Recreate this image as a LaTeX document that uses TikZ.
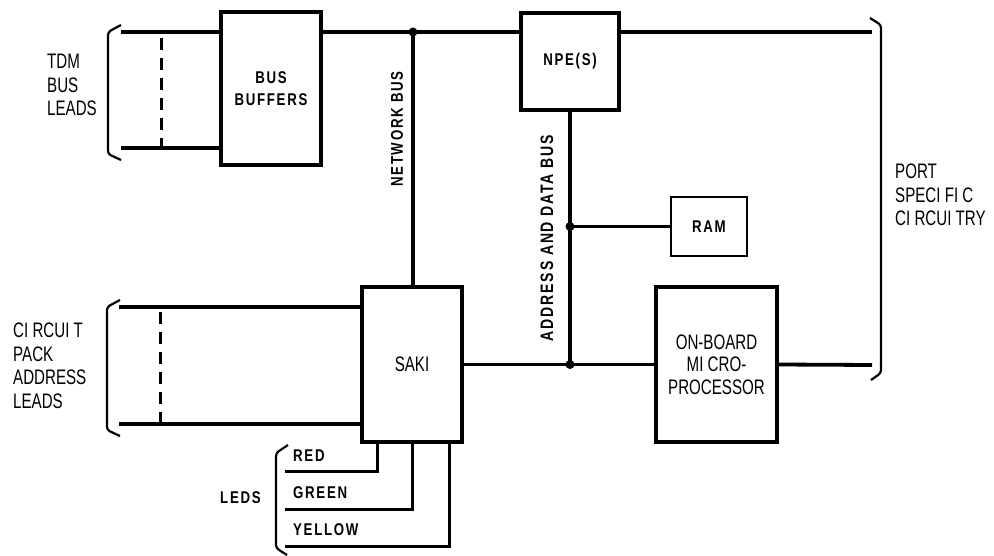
\documentclass[tikz,border=0pt]{standalone}
\usepackage{fontspec}
\newfontfamily\thinsans[FakeStretch=0.72]{Liberation Sans}
\newfontfamily\boldsans[FakeStretch=0.78,LetterSpace=10]{Liberation Sans Bold}
\usetikzlibrary{calc}

\begin{document}
\begin{tikzpicture}[x=1pt, y=-1pt,
    every node/.style={inner sep=0pt, align=center},
    blk/.style ={draw, line width=3.2pt, font=\boldsans\fontsize{17}{22}\selectfont},
    plain/.style={draw, line width=3.2pt, font=\thinsans\fontsize{21}{22.5}\selectfont},
    bus/.style ={line width=3.8pt},
    lead/.style={line width=3pt},
    brkt/.style={line width=2.2pt, rounded corners=3pt},
    tick/.style={line width=3pt, dash pattern=on 12pt off 8pt},
    tag/.style ={font=\boldsans\fontsize{17}{20}\selectfont},
    note/.style={font=\thinsans\fontsize{21}{23.5}\selectfont, align=left},
    dot/.style ={circle, fill, minimum size=9pt},
]
\useasboundingbox (0,0) rectangle (994,556);

% boxes
\node[blk, minimum width=100pt, minimum height=153pt] (buf) at (271,88.5) {BUS\\BUFFERS};
\node[blk, minimum width=98pt, minimum height=97pt] (npe) at (570,61.5) {NPE(S)};
\node[blk, line width=2.4pt, minimum width=76pt, minimum height=59pt] (ram) at (709,226.5) {RAM};
\node[plain, minimum width=100pt, minimum height=155pt] (saki) at (412,364.5) {SAKI};
\node[plain, minimum width=121pt, minimum height=155pt] (mpu) at (716.5,364.5) {ON-BOARD\\MI CRO-\\PROCESSOR};

% bracket ends
\coordinate (tdmT) at (121,32);
\coordinate (tdmB) at (121,148);
\coordinate (cpT) at (119,307);
\coordinate (cpB) at (119,424);
\coordinate (pscT) at (872,32);
\coordinate (pscB) at (872,365);
\coordinate (netj) at (413,32);

% TDM bus leads and network bus
\draw[bus] (tdmT) -- (tdmT -| buf.west);
\draw[bus] (tdmB) -- (tdmB -| buf.west);
\draw[tick] (161,38) -- (161,148);
\draw[bus] (buf.east |- tdmT) -- (npe.west |- tdmT);
\draw[bus] (npe.east |- tdmT) -- (pscT);
\draw[bus] (netj) -- (netj |- saki.north);
\node[dot] (netd) at (netj) {};

% address and data bus
\coordinate (ramj) at (ram.west -| npe.south);
\coordinate (mpuj) at (saki.east -| npe.south);
\draw[bus] (npe.south) -- (mpuj);
\draw[lead] (ramj) -- (ram.west);
\draw[bus] (saki.east) -- (mpu.west);
\draw[bus] (mpu.east) -- (pscB);
\node[dot] (ramd) at (ramj) {};
\node[dot] (mpud) at (mpuj) {};

% circuit pack address leads
\draw[bus] (cpT) -- (cpT -| saki.west);
\draw[bus] (cpB) -- (cpB -| saki.west);
\draw[tick] (160,312) -- (160,424);

% LED leads
\coordinate (redE) at (285,471);
\coordinate (grnE) at (285,509);
\coordinate (yelE) at (285,546);
\draw[lead] (redE) -| ([xshift=-35pt]saki.south);
\draw[lead] (grnE) -| (saki.south);
\draw[lead] (yelE) -| ([xshift=37pt]saki.south);

% brackets
\draw[brkt] (121,25) -- (108,32) -- (108,154) -- (121,160);
\draw[brkt] (120,300) -- (107,307) -- (107,430) -- (120,436);
\draw[brkt] (870,18) -- (881,25) -- (881,373) -- (871,380);
\draw[brkt] (288,445) -- (276,453) -- (276,548) -- (287,555);

% labels
\node[note, anchor=west] (tdm) at (47,85) {TDM\\BUS\\LEADS};
\node[note, anchor=west] (cpal) at (13,366) {CI RCUI T\\PACK\\ADDRESS\\LEADS};
\node[note, anchor=west] (psc) at (895,195) {PORT\\SPECI FI C\\CI RCUI TRY};
\node[tag, rotate=90] (netl) at (397,129) {NETWORK BUS};
\node[tag, rotate=90, font=\boldsans\fontsize{18}{20}\selectfont] (adrl) at (547,238) {ADDRESS AND DATA BUS};
\node[tag, anchor=west] (red) at (293,456) {RED};
\node[tag, anchor=west] (grn) at (293,493) {GREEN};
\node[tag, anchor=west] (yel) at (293,530) {YELLOW};
\node[tag, anchor=west] (leds) at (220,498) {LEDS};
\end{tikzpicture}
\end{document}
